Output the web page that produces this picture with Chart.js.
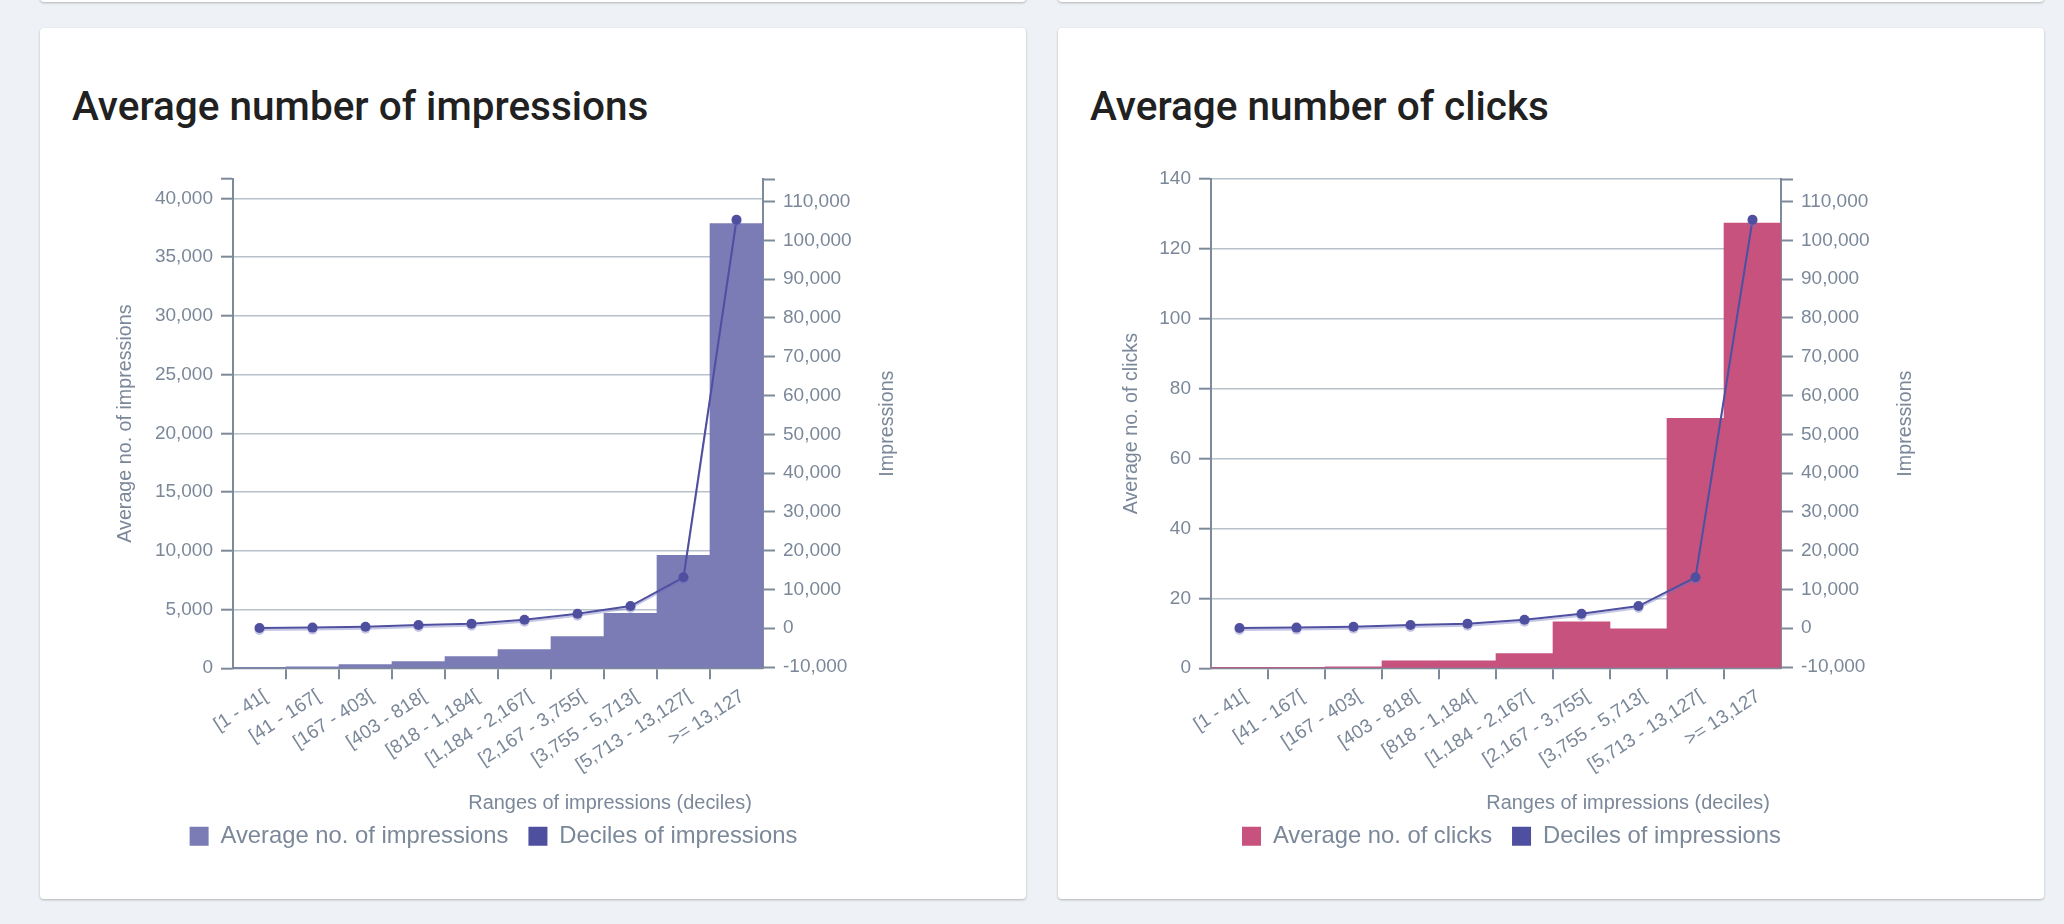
<!DOCTYPE html>
<html><head><meta charset="utf-8">
<script src="https://cdn.jsdelivr.net/npm/chart.js@4.4.1/dist/chart.umd.min.js"></script>
<style>
html,body{margin:0;padding:0;background:#eef1f5;width:2064px;height:924px;overflow:hidden;position:relative;}
.card{position:absolute;background:#fff;border-radius:4px;box-shadow:0 1px 3px rgba(0,0,0,0.16),0 1px 2px rgba(0,0,0,0.10);}
.title{position:absolute;font-family:Roboto,sans-serif;font-weight:500;font-size:40.5px;line-height:40px;color:#212121;white-space:nowrap;}
.cv{position:absolute;}
</style></head><body>
<div class="card" style="left:40px;top:-100px;width:986px;height:102px"></div>
<div class="card" style="left:1058px;top:-100px;width:986px;height:102px"></div>
<div class="card" style="left:40px;top:28px;width:986px;height:871px"></div>
<div class="card" style="left:1058px;top:28px;width:986px;height:871px"></div>
<div class="title" style="left:72px;top:86px">Average number of impressions</div>
<div class="title" style="left:1090px;top:86px">Average number of clicks</div>
<div class="cv" style="left:40px;top:140px;width:907px;height:720px"><canvas id="c1"></canvas></div>
<div class="cv" style="left:1058px;top:140px;width:907px;height:720px"><canvas id="c2"></canvas></div>
<script>
// ---- data ----
const categories = ['[1 - 41[', '[41 - 167[', '[167 - 403[', '[403 - 818[', '[818 - 1,184[', '[1,184 - 2,167[', '[2,167 - 3,755[', '[3,755 - 5,713[', '[5,713 - 13,127[', '>= 13,127'];
const avgImpressions = [20, 120, 315, 570, 995, 1590, 2700, 4680, 9610, 37860];
const avgClicks = [0.02, 0.1, 0.4, 2.1, 2.1, 4.2, 13.3, 11.3, 71.5, 127.4];
const impressionDeciles = [41, 167, 403, 818, 1184, 2167, 3755, 5713, 13127, 105300];
const impressionsAxisTicks = [0, 5000, 10000, 15000, 20000, 25000, 30000, 35000, 40000];
const impressionsAxisMax = 41650;
const clicksAxisTicks = [0, 20, 40, 60, 80, 100, 120, 140];
const clicksAxisMax = 140;
const decileAxisTicks = [-10000, 0, 10000, 20000, 30000, 40000, 50000, 60000, 70000, 80000, 90000, 100000, 110000];
const decileAxisMin = -10300;
const decileAxisMax = 115800;

// ---- style ----
const FONT = "'Liberation Sans', Arial, Helvetica, sans-serif";
const textColor = '#7b8899';
const axisColor = '#7d8a9a';
const gridColor = '#b7c1cc';
const lineColor = '#4f4f9f';

Chart.defaults.font.family = FONT;
Chart.defaults.color = textColor;

const rightTitlePlugin = {
  id: 'rightTitle',
  afterDraw(chart, args, o) {
    const s = chart.scales.y1;
    const ctx = chart.ctx;
    ctx.save();
    ctx.font = o.size + 'px ' + FONT;
    ctx.fillStyle = o.color;
    ctx.translate(s.right - o.offset, (s.top + s.bottom) / 2);
    ctx.rotate(-Math.PI / 2);
    ctx.textAlign = 'center';
    ctx.textBaseline = 'middle';
    ctx.fillText(o.text, 0, 0);
    ctx.restore();
  }
};

const lineShadowPlugin = {
  id: 'lineShadow',
  beforeDatasetDraw(chart, args) {
    if (args.meta.type !== 'line') return;
    const ctx = chart.ctx;
    ctx.save();
    ctx.shadowColor = 'rgba(110,110,190,0.40)';
    ctx.shadowOffsetX = 0;
    ctx.shadowOffsetY = 2;
    ctx.shadowBlur = 0;
  },
  afterDatasetDraw(chart, args) {
    if (args.meta.type !== 'line') return;
    chart.ctx.restore();
  }
};

function tickBuilder(list, max) {
  return (scale) => {
    const vals = list.slice();
    if (!vals.includes(max)) vals.push(max);
    scale.ticks = vals.map(v => ({ value: v }));
  };
}
function fmt(list) {
  return (v) => list.includes(v) ? Number(v).toLocaleString('en-US') : '';
}

function makeChart(id, cfg) {
  return new Chart(document.getElementById(id), {
    type: 'bar',
    data: {
      labels: categories,
      datasets: [
        {
          type: 'bar', label: cfg.barLabel, data: cfg.barData, yAxisID: 'y',
          backgroundColor: cfg.barColor, borderWidth: 0,
          barPercentage: 1, categoryPercentage: 1, order: 1
        },
        {
          type: 'line', label: 'Deciles of impressions', data: impressionDeciles, yAxisID: 'y1',
          borderColor: lineColor, backgroundColor: lineColor, borderWidth: 2,
          pointRadius: 5, pointBackgroundColor: lineColor, pointBorderWidth: 0,
          tension: 0, order: 0
        }
      ]
    },
    options: {
      responsive: true, maintainAspectRatio: false, animation: false,
      layout: { padding: { top: 39, bottom: 1.95, left: 0, right: 0 } },
      plugins: {
        tooltip: { enabled: false },
        legend: {
          position: 'bottom',
          labels: {
            boxWidth: 19, boxHeight: 19, padding: 20, color: textColor,
            font: { size: 23.8, family: FONT },
            sort: (a, b) => a.datasetIndex - b.datasetIndex,
            generateLabels: (chart) => Chart.defaults.plugins.legend.labels.generateLabels(chart).map(l => Object.assign(l, { lineWidth: 0 }))
          }
        },
        rightTitle: { text: 'Impressions', offset: 59, size: 19.7, color: textColor }
      },
      scales: {
        x: {
          offset: true,
          grid: {
            offset: true, drawOnChartArea: false, drawTicks: true, tickLength: 11, lineWidth: 2, tickWidth: 2,
            color: 'transparent',
            tickColor: (c) => (c.type !== 'tick' || c.index === 0) ? 'transparent' : axisColor
          },
          border: { display: true, color: axisColor, width: 2 },
          ticks: { color: textColor, font: { size: 19 }, minRotation: 33, maxRotation: 33, autoSkip: false, padding: 6, labelOffset: 6 },
          title: { display: true, text: 'Ranges of impressions (deciles)  ', align: 'end', color: textColor, font: { size: 19.95 }, padding: { top: 0, bottom: -11.7 } },
          afterFit: (s) => { s.height = 136.05; }
        },
        y: {
          position: 'left', min: 0, max: cfg.leftMax,
          afterBuildTicks: tickBuilder(cfg.leftTicks, cfg.leftMax),
          grid: {
            color: (c) => (c.tick && cfg.leftTicks.includes(c.tick.value)) ? gridColor : 'transparent',
            tickColor: axisColor, lineWidth: 1.4, tickWidth: 2, tickLength: 12, drawTicks: true
          },
          border: { display: true, color: axisColor, width: 2 },
          ticks: { color: textColor, font: { size: 19 }, padding: 8, callback: fmt(cfg.leftTicks) },
          title: { display: true, text: cfg.leftTitle, color: textColor, font: { size: 19.7 }, padding: { top: cfg.leftTitlePad, bottom: 0 } },
          afterFit: (s) => { s.width = cfg.leftWidth; }
        },
        y1: {
          position: 'right', min: decileAxisMin, max: decileAxisMax,
          afterBuildTicks: tickBuilder(decileAxisTicks, decileAxisMax),
          grid: { drawOnChartArea: false, tickColor: axisColor, tickWidth: 2, tickLength: 12, drawTicks: true },
          border: { display: true, color: axisColor, width: 2 },
          ticks: { color: textColor, font: { size: 19 }, padding: 8, callback: fmt(decileAxisTicks) },
          title: { display: false, text: 'Impressions' },
          afterFit: (s) => { s.width = 184; }
        }
      }
    },
    plugins: [rightTitlePlugin, lineShadowPlugin]
  });
}

makeChart('c1', {
  barLabel: 'Average no. of impressions', barData: avgImpressions, barColor: '#7b7bb6',
  leftMax: impressionsAxisMax, leftTicks: impressionsAxisTicks,
  leftTitle: 'Average no. of impressions', leftTitlePad: 74.2, leftWidth: 193
});
makeChart('c2', {
  barLabel: 'Average no. of clicks', barData: avgClicks, barColor: '#c8527e',
  leftMax: clicksAxisMax, leftTicks: clicksAxisTicks,
  leftTitle: 'Average no. of clicks', leftTitlePad: 61.7, leftWidth: 153
});
</script>
</body></html>
